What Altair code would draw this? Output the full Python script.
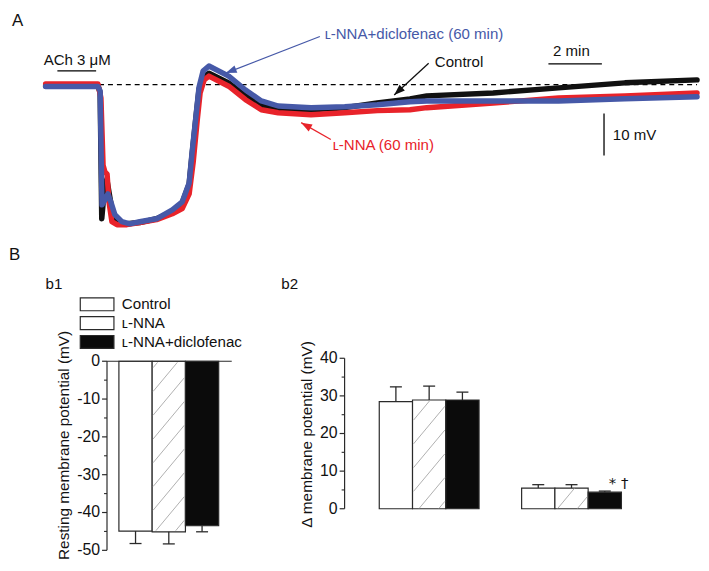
import math
import altair as alt
import pandas as pd

FONT = "Liberation Sans"
INK = "#2a2a2a"
TXT = "#111111"

# ---------------- Panel A: membrane potential traces ----------------
# time (min) and membrane potential relative to resting level (mV)
t_control = [0.00, 0.93, 1.96, 2.04, 2.10, 2.19, 2.29, 2.41, 2.53, 2.67, 3.04, 3.52, 4.15, 4.74, 5.11, 5.37, 5.48,
             5.63, 5.74, 5.89, 6.11, 6.85, 7.48, 8.07, 8.70, 9.93, 11.19, 12.41, 13.63, 14.26, 16.74, 19.19, 21.67, 24.37]
v_control = [-0.35, -0.35, -0.35, -2.0, -31.9, -25.5, -22.5, -27.0, -31.4, -32.6, -33.1, -32.8, -31.9, -30.2, -28.1,
             -23.6, -16.6, -7.4, -1.1, 1.8, 2.7, 0.4, -2.7, -5.1, -6.0, -6.0, -5.5, -4.4, -3.4, -2.7, -2.0, -0.8, 0.4, 1.1]

t_lnna = [0.00, 0.93, 1.96, 2.07, 2.15, 2.22, 2.30, 2.37, 2.48, 2.67, 3.04, 3.52, 4.15, 4.74, 5.11, 5.37, 5.52,
          5.67, 5.78, 5.93, 6.11, 6.85, 7.48, 8.07, 8.70, 9.93, 11.19, 12.41, 13.63, 14.26, 16.74, 19.19, 21.67, 24.37]
v_lnna = [0.12, 0.12, 0.12, -3.2, -19.2, -20.8, -21.3, -27.9, -32.6, -33.3, -33.3, -32.8, -32.1, -30.7, -29.5,
          -26.0, -18.5, -8.6, -2.0, 1.1, 2.0, -0.4, -3.6, -6.0, -6.7, -7.2, -6.7, -6.2, -6.0, -5.5, -4.4, -3.2, -2.7, -2.0]

t_lnna_dic = [0.00, 0.93, 1.96, 2.04, 2.11, 2.22, 2.33, 2.44, 2.59, 2.85, 3.15, 3.52, 4.15, 4.74, 5.11, 5.37, 5.48,
              5.63, 5.74, 5.89, 6.11, 6.85, 7.48, 8.07, 8.70, 9.93, 11.19, 12.41, 13.63, 14.26, 16.74, 19.19, 21.67, 24.37]
v_lnna_dic = [-0.47, -0.47, -0.47, -1.5, -28.6, -27.4, -26.0, -27.9, -30.9, -32.6, -33.1, -32.6, -31.9, -29.8, -27.9,
              -23.4, -16.1, -7.2, -0.6, 3.2, 4.4, 2.0, -1.3, -3.9, -5.1, -5.5, -5.3, -4.8, -4.1, -3.9, -3.9, -3.9, -3.4, -2.9]

trace_labels = ["Control", "ʟ-NNA (60 min)", "ʟ-NNA+diclofenac (60 min)"]
trace_colors = ["#111111", "#e8232a", "#4659a8"]

# ---------------- Panel B ----------------
groups = ["Control", "ʟ-NNA", "ʟ-NNA+diclofenac"]
group_fills = ["white", "white", "#0b0b0b"]
group_hatched = [False, True, False]
rmp_mean = [-44.9, -45.1, -43.5]
rmp_sem = [3.3, 3.2, 1.6]
hyper_mean = [28.5, 28.9, 28.9]
hyper_sem = [3.9, 3.7, 2.1]
depol_mean = [5.5, 5.5, 4.4]
depol_sem = [0.9, 0.9, 0.3]

b1_ticks = [0, -10, -20, -30, -40, -50]
b1_minor = [-5, -15, -25, -35, -45]
b2_ticks = [0, 10, 20, 30, 40]
b2_minor = [5, 15, 25, 35]


def hatch(x0, x1, y0, y1, sx, sy, step, slope=1.2):
    """diagonal hatch segments clipped to a rectangle (computed in pixel space)"""
    X0, X1 = sorted([x0 * sx, x1 * sx])
    Y0, Y1 = sorted([y0 * sy, y1 * sy])
    segs = []
    c = math.floor((Y0 - slope * X1) / step) * step
    while c <= Y1 - slope * X0:
        xa = max(X0, (Y0 - c) / slope)
        xb = min(X1, (Y1 - c) / slope)
        if xb - xa > 0.5:
            segs.append(dict(x=xa / sx, y=(slope * xa + c) / sy, x2=xb / sx, y2=(slope * xb + c) / sy))
        c += step
    return segs


def label_layer(text, x, y, size=15, align="left", baseline="middle", angle=0):
    return alt.Chart(pd.DataFrame({"label": [text]})).mark_text(
        align=align, baseline=baseline, fontSize=size, color=TXT, angle=angle).encode(
        x=alt.value(x), y=alt.value(y), text="label:N")


def manual_axis(ticks, minor, yscale, axis_px, title, title_x, title_y):
    tk = pd.DataFrame({"v": ticks, "label": [str(t) for t in ticks]})
    mn = pd.DataFrame({"v": minor})
    major = alt.Chart(tk).mark_rule(color=INK, strokeWidth=1.2).encode(
        x=alt.value(axis_px - 5), x2=alt.value(axis_px), y=alt.Y("v:Q", scale=yscale, axis=None))
    minor_l = alt.Chart(mn).mark_rule(color=INK, strokeWidth=1.1).encode(
        x=alt.value(axis_px - 3), x2=alt.value(axis_px), y=alt.Y("v:Q", scale=yscale, axis=None))
    labels = alt.Chart(tk).mark_text(align="right", baseline="middle", fontSize=16, color=TXT).encode(
        x=alt.value(axis_px - 7), y=alt.Y("v:Q", scale=yscale, axis=None), text="label:N")
    dom = alt.Chart(pd.DataFrame({"a": [min(ticks)], "b": [max(ticks)]})).mark_rule(
        color=INK, strokeWidth=1.2).encode(x=alt.value(axis_px), y=alt.Y("a:Q", scale=yscale, axis=None), y2="b:Q")
    ttl = label_layer(title, axis_px + title_x, title_y, size=15.5, align="center", angle=270)
    return [dom, major, minor_l, labels, ttl]


# ======================= Panel A =======================
A_W, A_H = 697, 232
XA = [-1.370, 24.444]
YA = [-37.29, 17.29]
PX_MIN = A_W / (XA[1] - XA[0])
PX_MV = A_H / (YA[1] - YA[0])
xA = alt.Scale(domain=XA, nice=False, zero=False)
yA = alt.Scale(domain=YA, nice=False, zero=False)


def ax(f):
    return alt.X(f, scale=xA, axis=None)


def ay(f):
    return alt.Y(f, scale=yA, axis=None)


baseline = alt.Chart(pd.DataFrame({"t0": [0.0], "t1": [24.37], "v": [0.0]})).mark_rule(
    color="black", strokeWidth=1.3, strokeDash=[5, 4]).encode(x=ax("t0:Q"), x2="t1:Q", y=ay("v:Q"))

traces = []
for ts, vs, col in [(t_control, v_control, trace_colors[0]), (t_lnna, v_lnna, trace_colors[1]),
                    (t_lnna_dic, v_lnna_dic, trace_colors[2])]:
    df = pd.DataFrame({"t": ts, "v": vs, "i": list(range(len(ts)))})
    traces.append(alt.Chart(df).mark_line(color=col, strokeWidth=5.5, strokeJoin="round", strokeCap="round")
                  .encode(x=ax("t:Q"), y=ay("v:Q"), order="i:Q"))

segs = pd.DataFrame({
    "t0": [0.44, 18.81, 20.89],
    "t1": [1.89, 20.81, 20.89],
    "v0": [3.25, 4.89, -6.87],
    "v1": [3.25, 4.89, -16.87],
})
seg_layer = alt.Chart(segs).mark_rule(color="black", strokeWidth=1.3).encode(
    x=ax("t0:Q"), x2="t1:Q", y=ay("v0:Q"), y2="v1:Q")

labelsA = pd.DataFrame({
    "label": ["ACh 3 μM", "2 min", "10 mV"],
    "t": [-0.074, 19.67, 21.22],
    "v": [5.7, 7.88, -12.12],
    "align": ["left", "center", "left"],
})
textA = []
for _, r in labelsA.iterrows():
    textA.append(alt.Chart(pd.DataFrame([r])).mark_text(align=r["align"], baseline="middle", fontSize=15.2,
                                                           color=TXT)
                 .encode(x=ax("t:Q"), y=ay("v:Q"), text="label:N"))

# arrow annotations: label position, arrow start, arrow tip
ann = pd.DataFrame({
    "label": [trace_labels[2], trace_labels[0], trace_labels[1]],
    "color": [trace_colors[2], trace_colors[0], trace_colors[1]],
    "lt": [10.44, 14.56, 10.74],
    "lv": [11.9, 5.41, -14.35],
    "t0": [10.26, 14.33, 10.67],
    "v0": [11.41, 5.06, -13.06],
    "t1": [6.74, 13.04, 9.56],
    "v1": [2.71, -2.47, -9.06],
})
ann["angle"] = [
    (math.degrees(math.atan2((r.t1 - r.t0) * PX_MIN, (r.v1 - r.v0) * PX_MV)) + 360) % 360
    for r in ann.itertuples()
]
ann_text = alt.Chart(ann).mark_text(align="left", baseline="middle", fontSize=15.2).encode(
    x=ax("lt:Q"), y=ay("lv:Q"), text="label:N", color=alt.Color("color:N", scale=None))
ann_line = alt.Chart(ann).mark_rule(strokeWidth=1.3).encode(
    x=ax("t0:Q"), y=ay("v0:Q"), x2="t1:Q", y2="v1:Q", color=alt.Color("color:N", scale=None))
ann_head = alt.Chart(ann).mark_point(shape="M0,0L-0.36,1L0.36,1Z", filled=True, size=484, opacity=1,
                                     strokeWidth=0).encode(
    x=ax("t1:Q"), y=ay("v1:Q"), angle=alt.Angle("angle:Q", scale=None), color=alt.Color("color:N", scale=None))

labA = label_layer("A", 3, 1, size=17, baseline="top")

panelA = alt.layer(baseline, *traces, seg_layer, *textA, ann_line, ann_head, ann_text, labA).properties(
    width=A_W, height=A_H)

# ======================= Panel b1 =======================
B1_W, B1_H = 225, 194
XB1 = [-3.304, 3.392]
YB1 = [-50.0, 0.785]
SX1 = B1_W / (XB1[1] - XB1[0])
SY1 = B1_H / (YB1[1] - YB1[0])
xb1 = alt.Scale(domain=XB1, nice=False, zero=False)
yb1 = alt.Scale(domain=YB1, nice=False, zero=False)
AXIS1_PX = 99  # y-axis position inside b1 plot


def b1x(px):
    return XB1[0] + px / SX1


def b1y(py):
    return YB1[1] - py / SY1


def x1(f):
    return alt.X(f, scale=xb1, axis=None)


def y1(f):
    return alt.Y(f, scale=yb1, axis=None)


bars1 = pd.DataFrame({
    "x0": [0.0, 1.0, 2.0], "x1": [1.0, 2.0, 3.0], "base": [0.0] * 3,
    "val": rmp_mean, "sem": rmp_sem, "fill": group_fills,
})
bars1["xc"] = bars1["x0"] + 0.5
bars1["lo"] = bars1["val"] - bars1["sem"]
bars1["c0"] = bars1["xc"] - 0.18
bars1["c1"] = bars1["xc"] + 0.18

b1_bars = alt.Chart(bars1).mark_rect(stroke=INK, strokeWidth=1.2).encode(
    x=x1("x0:Q"), x2="x1:Q", y=y1("val:Q"), y2="base:Q", fill=alt.Fill("fill:N", scale=None))

hatch_rows = []
for i, h in enumerate(group_hatched):
    if h:
        hatch_rows += hatch(bars1.x0[i] + 0.03, bars1.x1[i] - 0.03, rmp_mean[i] + 0.3, -0.3, SX1, SY1, 24)
# legend box hatch (pixel space inside b1, y downward)
LEG_X0, LEG_X1 = 72, 106
LEG_TOPS = [-61, -42, -23]
LEG_H = 13
for i, h in enumerate(group_hatched):
    if h:
        for s in hatch(LEG_X0 + 1, LEG_X1 - 1, LEG_TOPS[i] + 1, LEG_TOPS[i] + LEG_H - 1, 1, -1, 13):
            hatch_rows.append(dict(x=b1x(s["x"]), y=b1y(s["y"]), x2=b1x(s["x2"]), y2=b1y(s["y2"])))
b1_hatch = alt.Chart(pd.DataFrame(hatch_rows)).mark_rule(color="#a6a6a6", strokeWidth=0.9).encode(
    x=x1("x:Q"), y=y1("y:Q"), x2="x2:Q", y2="y2:Q")

b1_err = alt.Chart(bars1).mark_rule(color=INK, strokeWidth=1.3).encode(x=x1("xc:Q"), y=y1("val:Q"), y2="lo:Q")
b1_cap = alt.Chart(bars1).mark_rule(color=INK, strokeWidth=1.3).encode(x=x1("c0:Q"), x2="c1:Q", y=y1("lo:Q"))

b1_zero = alt.Chart(pd.DataFrame({"x0": [b1x(AXIS1_PX)], "x1": [XB1[1]], "y0": [0.0]})).mark_rule(
    color=INK, strokeWidth=1.2).encode(x=x1("x0:Q"), x2="x1:Q", y=y1("y0:Q"))

b1_axis = manual_axis(b1_ticks, b1_minor, yb1, AXIS1_PX, "Resting membrane potential (mV)", -43.5, 88)

leg = pd.DataFrame({
    "label": groups, "fill": group_fills,
    "x0": [b1x(LEG_X0)] * 3, "x1": [b1x(LEG_X1)] * 3,
    "y0": [b1y(t) for t in LEG_TOPS], "y1": [b1y(t + LEG_H) for t in LEG_TOPS],
    "tx": [b1x(114)] * 3, "ty": [b1y(t + LEG_H / 2) for t in LEG_TOPS],
})
leg_box = alt.Chart(leg).mark_rect(stroke=INK, strokeWidth=1.2).encode(
    x=x1("x0:Q"), x2="x1:Q", y=y1("y0:Q"), y2="y1:Q", fill=alt.Fill("fill:N", scale=None))
leg_text = alt.Chart(leg).mark_text(align="left", baseline="middle", fontSize=15.3, color=TXT).encode(
    x=x1("tx:Q"), y=y1("ty:Q"), text="label:N")

labB = label_layer("B", 0, -112, size=17, baseline="top")
lab_b1 = label_layer("b1", 37, -75, size=15.3)

b1 = alt.layer(b1_bars, b1_hatch, b1_err, b1_cap, b1_zero, *b1_axis, leg_box, leg_text, labB,
               lab_b1).properties(width=B1_W, height=B1_H)

# ======================= Panel b2 =======================
B2_W, B2_H = 303, 152
XB2 = [-1.042, 7.976]
YB2 = [0.0, 40.0]
SX2 = B2_W / (XB2[1] - XB2[0])
SY2 = B2_H / (YB2[1] - YB2[0])
xb2 = alt.Scale(domain=XB2, nice=False, zero=False)
yb2 = alt.Scale(domain=YB2, nice=False, zero=False)


def x2s(f):
    return alt.X(f, scale=xb2, axis=None)


def y2s(f):
    return alt.Y(f, scale=yb2, axis=None)


offsets = [0.0, 4.28]
rows = []
for g, (means, sems) in enumerate([(hyper_mean, hyper_sem), (depol_mean, depol_sem)]):
    for i in range(3):
        rows.append(dict(x0=offsets[g] + i, x1=offsets[g] + i + 1, base=0.0, val=means[i], sem=sems[i],
                         fill=group_fills[i], hatched=group_hatched[i]))
bars2 = pd.DataFrame(rows)
bars2["xc"] = bars2["x0"] + 0.5
bars2["hi"] = bars2["val"] + bars2["sem"]
bars2["c0"] = bars2["xc"] - 0.18
bars2["c1"] = bars2["xc"] + 0.18

b2_bars = alt.Chart(bars2).mark_rect(stroke=INK, strokeWidth=1.2).encode(
    x=x2s("x0:Q"), x2="x1:Q", y=y2s("val:Q"), y2="base:Q", fill=alt.Fill("fill:N", scale=None))
b2_err = alt.Chart(bars2).mark_rule(color=INK, strokeWidth=1.3).encode(x=x2s("xc:Q"), y=y2s("val:Q"), y2="hi:Q")
b2_cap = alt.Chart(bars2).mark_rule(color=INK, strokeWidth=1.3).encode(x=x2s("c0:Q"), x2="c1:Q", y=y2s("hi:Q"))

h2 = []
for r in bars2.itertuples():
    if r.hatched:
        h2 += hatch(r.x0 + 0.03, r.x1 - 0.03, 0.1, r.val - 0.1, SX2, SY2, 24)
b2_hatch = alt.Chart(pd.DataFrame(h2)).mark_rule(color="#a6a6a6", strokeWidth=0.9).encode(
    x=x2s("x:Q"), y=y2s("y:Q"), x2="x2:Q", y2="y2:Q")

b2_axis = manual_axis(b2_ticks, b2_minor, yb2, 0, "Δ membrane potential (mV)", -37.5, 77)

sig = alt.Chart(pd.DataFrame({"label": ["* †"], "x": [6.9], "y": [6.7]})).mark_text(
    align="left", baseline="middle", fontSize=15, color=TXT, font="DejaVu Sans").encode(
    x=x2s("x:Q"), y=y2s("y:Q"), text="label:N")
lab_b2 = label_layer("b2", -64, -75, size=15.3)

b2 = alt.layer(b2_err, b2_cap, b2_bars, b2_hatch, *b2_axis, sig, lab_b2).properties(width=B2_W, height=B2_H)

bottom = alt.hconcat(b1, b2, spacing=114, bounds="flush")
chart = alt.vconcat(panelA, bottom, spacing=118, bounds="flush").properties(
    padding=0
).configure(font=FONT).configure_view(stroke="transparent")

chart.save("out.html", embed_options={"renderer": "svg", "actions": False})
